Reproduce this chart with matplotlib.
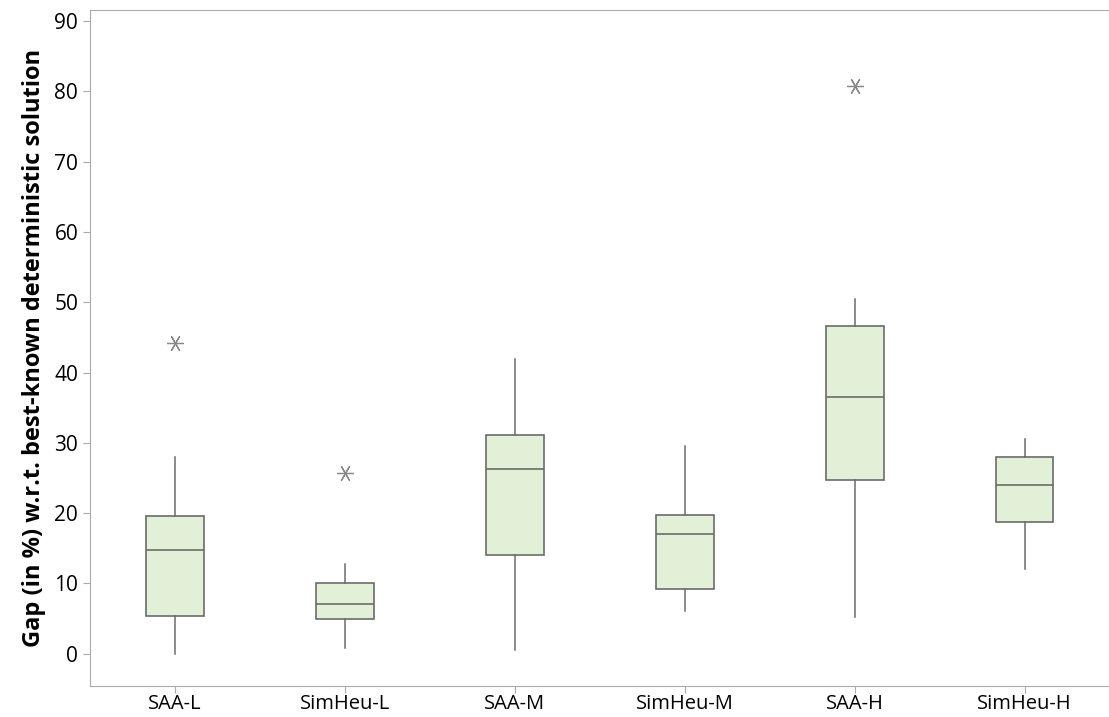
import matplotlib
matplotlib.use("Agg")
import matplotlib.pyplot as plt

# box statistics
labels = ["SAA-L", "SimHeu-L", "SAA-M", "SimHeu-M", "SAA-H", "SimHeu-H"]
whislo = [0.0, 0.8, 0.5, 6.1, 5.2, 12.0]
q1 = [5.4, 4.9, 14.0, 9.2, 24.7, 18.8]
med = [14.8, 7.1, 26.3, 17.0, 36.5, 24.0]
q3 = [19.6, 10.0, 31.1, 19.8, 46.6, 28.0]
whishi = [28.0, 12.7, 42.0, 29.5, 50.5, 30.6]
fliers = [[44.2], [25.7], [], [], [80.8], []]

plt.rcParams['font.family'] = ['Open Sans', 'DejaVu Sans']

stats = []
for i in range(len(labels)):
    stats.append(dict(label=labels[i], whislo=whislo[i], q1=q1[i], med=med[i],
                      q3=q3[i], whishi=whishi[i], fliers=fliers[i]))

fig = plt.figure(figsize=(11.09, 7.17), dpi=100)
ax = fig.add_axes([0.0812, 0.0432, 0.93, 0.943])

edge = '#6b6b6b'
ax.bxp(stats, widths=0.34, patch_artist=True, showcaps=False,
       boxprops=dict(facecolor='#e3f0d8', edgecolor=edge, linewidth=1.2),
       medianprops=dict(color=edge, linewidth=1.2),
       whiskerprops=dict(color=edge, linewidth=1.1),
       flierprops=dict(marker=(6, 2, 90), markersize=12, markeredgecolor='#888888',
                       markeredgewidth=0.9, linestyle='none'))

ax.set_xlim(0.5, 6.57)
ax.set_ylim(-4.6, 91.6)
ax.set_yticks(range(0, 91, 10))

for s in ['left', 'bottom', 'top']:
    ax.spines[s].set_color('#aaaaaa')
ax.spines['right'].set_visible(False)
ax.tick_params(axis='both', color='#aaaaaa', labelsize=15, length=5)
ax.tick_params(axis='x', pad=1, labelsize=14.5)
ax.set_xticks(range(1, 7))
ax.set_xticklabels(labels)

ax.set_ylabel('Gap (in %) w.r.t. best-known deterministic solution',
              fontsize=17, fontweight='bold', labelpad=6)

fig.savefig('out.png', dpi=100)
